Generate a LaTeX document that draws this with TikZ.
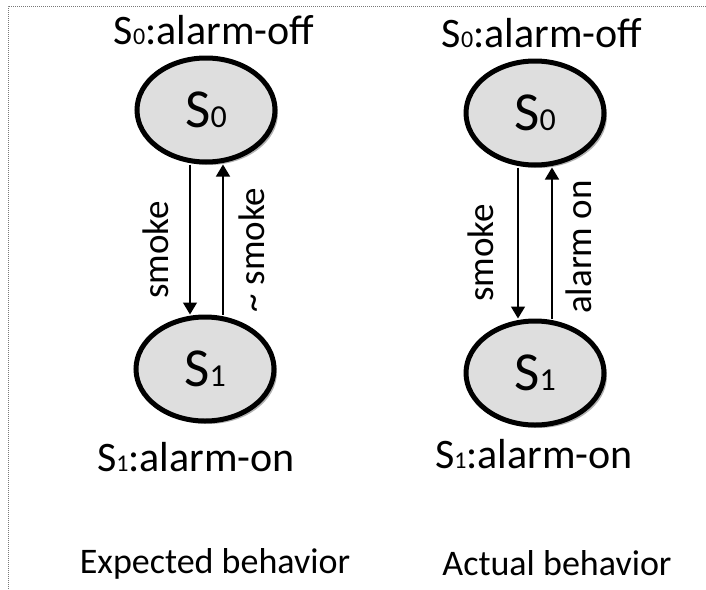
\documentclass[tikz,border=0pt]{standalone}
\usepackage{fontspec}
\setmainfont{Carlito}
\usetikzlibrary{arrows.meta,shadows,calc,shapes.geometric}
\definecolor{stategray}{RGB}{222,222,222}
\definecolor{framegray}{RGB}{120,120,120}
\newcommand\lowdig[2]{{\fontsize{#1}{#1}\selectfont #2}}
\begin{document}
\begin{tikzpicture}[x=1pt,y=-1pt,
  state/.style={ellipse, draw=black, line width=5pt, fill=stategray,
    minimum width=138pt, minimum height=104pt, inner sep=0pt,
    font=\fontsize{55}{55}\selectfont,
    drop shadow={shadow xshift=3pt, shadow yshift=-3pt, opacity=0.3, fill=black}},
  caption/.style={font=\fontsize{42}{42}\selectfont, anchor=base, inner sep=0pt},
  title/.style={font=\fontsize{36}{36}\selectfont, anchor=base, inner sep=0pt},
  lbl/.style={font=\fontsize{37}{37}\selectfont, rotate=90, inner sep=0pt},
  arr/.style={line width=1.5pt, -{Triangle[length=12pt,width=14pt]}}
]
\useasboundingbox (0,0) rectangle (706,589);
\draw[framegray, line width=0.8pt, dash pattern=on 1pt off 1pt] (8,589) -- (8,6) -- (706,6);

% expected behavior
\node[state] (a0) at (206,110) {S\lowdig{32}{0}};
\node[state] (a1) at (205,369) {S\lowdig{32}{1}};
\node[caption] (a0t) at (214,44) {S\lowdig{24}{0}:alarm-off};
\node[caption] (a1t) at (196,471) {S\lowdig{24}{1}:alarm-on};
\draw[arr] ($(a0.south)+(-16,0)$) -- ($(a1.north)+(-15,0)$);
\draw[arr] ($(a1.north)+(18,0)$) -- ($(a0.south)+(17,0)$);
\node[lbl] (a01) at (156,250) {smoke};
\node[lbl] (a10) at (252,250) {\textasciitilde{} smoke};
\node[title] (at) at (215,573) {Expected behavior};

% actual behavior
\node[state] (b0) at (535,113) {S\lowdig{32}{0}};
\node[state] (b1) at (535,373) {S\lowdig{32}{1}};
\node[caption] (b0t) at (542,47) {S\lowdig{24}{0}:alarm-off};
\node[caption] (b1t) at (534,468) {S\lowdig{24}{1}:alarm-on};
\draw[arr] ($(b0.south)+(-17,0)$) -- ($(b1.north)+(-17,0)$);
\draw[arr] ($(b1.north)+(17,0)$) -- ($(b0.south)+(17,0)$);
\node[lbl] (b01) at (481,253) {smoke};
\node[lbl] (b10) at (579,247) {alarm on};
\node[title] (bt) at (557,575) {Actual behavior};
\end{tikzpicture}
\end{document}
